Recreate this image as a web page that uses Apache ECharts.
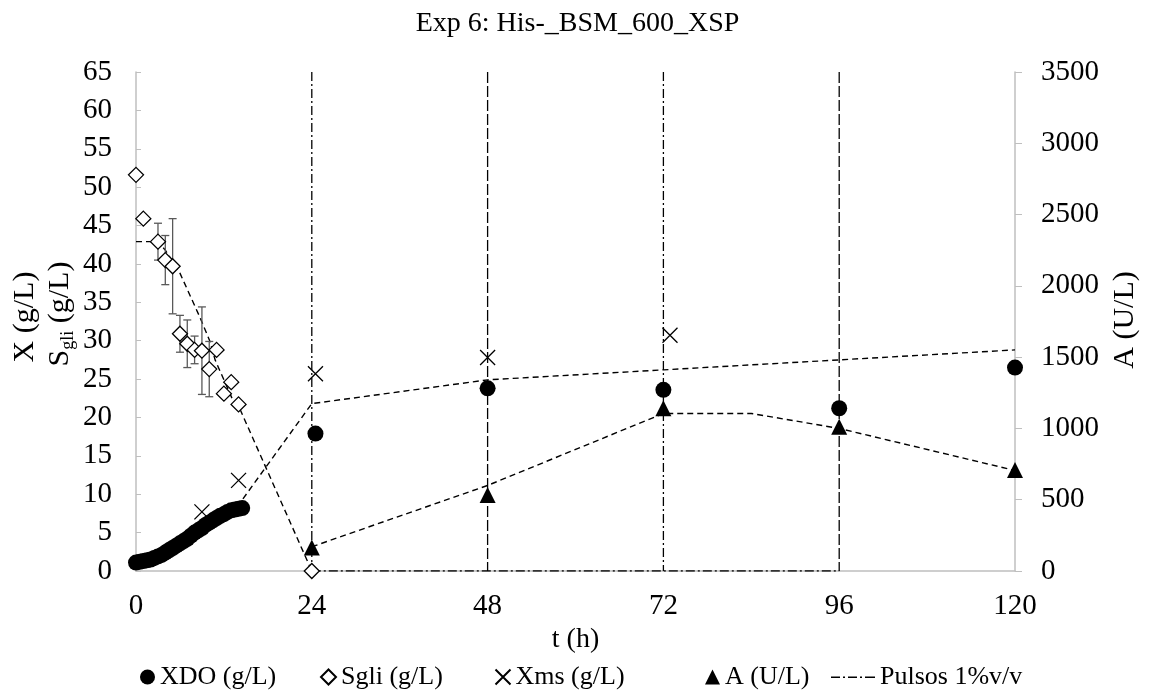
<!DOCTYPE html>
<html>
<head>
<meta charset="utf-8">
<script src="https://cdn.jsdelivr.net/npm/echarts@6/dist/echarts.min.js"></script>
<style>
  html, body { margin: 0; padding: 0; background: #fff; }
  #chart { width: 1155px; height: 699px; }
</style>
</head>
<body>
<div id="chart"></div>
<script>
// datos
var xdoT   = [0,0.5,1,1.5,2,2.5,3,3.5,4,4.5,5,5.5,6,6.5,7,7.5,8,8.5,9,9.5,10,10.5,11,11.5,12,12.5,13,13.5,14,14.5,24.5,48,72,96,120];
var xdoVal = [1.1,1.2,1.3,1.4,1.5,1.7,1.9,2.1,2.4,2.7,3.0,3.3,3.6,3.9,4.2,4.6,5.0,5.3,5.6,6.0,6.3,6.6,6.9,7.2,7.4,7.7,7.9,8.0,8.1,8.2,17.9,23.8,23.6,21.2,26.5];

var sgliT   = [0,1,3,4,5,6,7,8,9,10,11,12,13,14,24];
var sgliVal = [51.6,45.9,42.9,40.5,39.7,30.9,29.6,28.8,28.7,26.3,28.8,23.1,24.6,21.7,0];
var sgliErr = [0,0,2.4,3.2,6.2,2.4,3.1,1.8,5.7,3.6,0,0,0,0,0];

var xmsT   = [9,14,24.5,48,72.9];
var xmsVal = [7.7,11.8,25.7,27.8,30.7];

var aT   = [24,48,72,96,120];
var aVal = [165,533,1141,1012,708];

// curvas del modelo (lineas discontinuas)
var xModelT   = [14.6,24,48,72,96,120];
var xModelVal = [9.4,21.8,24.9,26.2,27.5,28.8];
var sModelT   = [0,3,4,6,8.7,10.1,10.8,13.2,14,24];
var sModelVal = [42.9,42.9,41.8,38.8,33.1,29.9,27.5,22.3,21.5,0];
var aModelT   = [24,48,72,84,96,120];
var aModelVal = [170,600,1105,1105,1000,705];

// pulsos
var pulseTimes = [24,48,72,96];
var pulseTop = 65;

var FONT = "'Liberation Serif', 'DejaVu Serif', serif";

function zip(a, b){
	var out = [];
	for(var i=0;i<a.length;i++){
		out.push([a[i], b[i]]);
	}
	return out;
}

var chart = echarts.init(document.getElementById('chart'));

var sgliErrData = [];
for(var i=0;i<sgliT.length;i++){
	sgliErrData.push([sgliT[i], sgliVal[i], sgliErr[i]]);
}

var pulseSeries = [];
for(var i=0;i<pulseTimes.length;i++){
	pulseSeries.push({
		name: 'Pulsos 1%v/v', type: 'line', yAxisIndex: 0, symbol: 'none', z: 1,
		itemStyle: { color: '#000' },
		lineStyle: { color: '#000', width: 1.3, type: (i % 2 == 0) ? [9,3,2,3] : [11,3] },
		data: [[pulseTimes[i], pulseTop], [pulseTimes[i], 0]]
	});
}
pulseSeries.push({
	name: 'Pulsos 1%v/v', type: 'line', yAxisIndex: 0, symbol: 'none', z: 1,
	itemStyle: { color: '#000' },
	lineStyle: { color: '#000', width: 1.3, type: [9,3,2,3] },
	data: [[pulseTimes[0], 0], [pulseTimes[pulseTimes.length-1], 0]]
});

var modelLine = { color: '#000', width: 1.4, type: [6,4] };

// icono raya-punto para la leyenda de pulsos
var dashDotIcon = 'path://M0,0L0.01,0L0.01,0.01Z M0,14L0.01,14L0.01,14.01Z M0,6.5h9v1.4h-9z M12,6.5h2v1.4h-2z M17,6.5h9v1.4h-9z M29,6.5h2v1.4h-2z M34,6.5h10v1.4h-10z';

var legendNames = ['XDO (g/L)', 'Sgli (g/L)', 'Xms (g/L)', 'A (U/L)', 'Pulsos 1%v/v'];
var legendLeft  = [135, 315, 488, 700, 826];
var legends = [];
for(var i=0;i<legendNames.length;i++){
	legends.push({
		data: [i == 4 ? { name: legendNames[i], icon: dashDotIcon } : legendNames[i]],
		left: legendLeft[i], top: 659,
		itemWidth: (i == 4) ? 44 : 15, itemHeight: 15, itemGap: 6,
		textStyle: { fontFamily: FONT, fontSize: 26, color: '#000' }
	});
}

var option = {
	animation: false,
	backgroundColor: '#fff',
	title: {
		text: 'Exp 6: His-_BSM_600_XSP',
		left: 'center', top: 5,
		textStyle: { fontFamily: FONT, fontSize: 28, fontWeight: 'normal', color: '#000' }
	},
	legend: legends,
	grid: { left: 136, right: 140, top: 72, bottom: 128, containLabel: false },
	xAxis: {
		type: 'value', min: 0, max: 120, interval: 24,
		name: 't (h)', nameLocation: 'middle', nameGap: 48,
		nameTextStyle: { fontFamily: FONT, fontSize: 28, color: '#000' },
		axisLine: { lineStyle: { color: '#bfbfbf', width: 1.5 } },
		axisTick: { show: false },
		axisLabel: { fontFamily: FONT, fontSize: 29, color: '#000', margin: 21 },
		splitLine: { show: false }
	},
	yAxis: [{
		type: 'value', min: 0, max: 65, interval: 5, position: 'left',
		axisLine: { show: true, lineStyle: { color: '#bfbfbf', width: 1.5 } },
		axisTick: { show: true, inside: true, length: 5, lineStyle: { color: '#bfbfbf' } },
		axisLabel: { fontFamily: FONT, fontSize: 29, color: '#000', margin: 24 },
		splitLine: { show: false }
	}, {
		type: 'value', min: 0, max: 3500, interval: 500, position: 'right',
		axisLine: { show: true, lineStyle: { color: '#bfbfbf', width: 1.5 } },
		axisTick: { show: true, length: 7, lineStyle: { color: '#bfbfbf' } },
		axisLabel: { fontFamily: FONT, fontSize: 29, color: '#000', margin: 26,
			formatter: function(v){ return String(v); } },
		splitLine: { show: false }
	}],
	graphic: [{
		type: 'text', x: 25, y: 317, rotation: Math.PI / 2,
		style: { text: 'X (g/L)', fontFamily: FONT, fontSize: 30, fill: '#000', align: 'center', verticalAlign: 'middle' }
	}, {
		type: 'text', x: 60, y: 314, rotation: Math.PI / 2,
		style: {
			text: '{a|S}{b|gli}{a| (g/L)}', align: 'center', verticalAlign: 'middle', fill: '#000',
			rich: {
				a: { fontFamily: FONT, fontSize: 30, lineHeight: 34, fill: '#000' },
				b: { fontFamily: FONT, fontSize: 18, lineHeight: 18, verticalAlign: 'bottom', fill: '#000' }
			}
		}
	}, {
		type: 'text', x: 1125, y: 320, rotation: Math.PI / 2,
		style: { text: 'A (U/L)', fontFamily: FONT, fontSize: 30, fill: '#000', align: 'center', verticalAlign: 'middle' }
	}],
	series: pulseSeries.concat([
		{ name: 'modeloX', type: 'line', yAxisIndex: 0, symbol: 'none', z: 2,
		  lineStyle: modelLine, data: zip(xModelT, xModelVal) },
		{ name: 'modeloS', type: 'line', yAxisIndex: 0, symbol: 'none', z: 2,
		  lineStyle: modelLine, data: zip(sModelT, sModelVal) },
		{ name: 'modeloA', type: 'line', yAxisIndex: 1, symbol: 'none', z: 2,
		  lineStyle: modelLine, data: zip(aModelT, aModelVal) },
		{
			name: 'errSgli', type: 'custom', yAxisIndex: 0, z: 3,
			encode: { x: 0, y: 1 },
			renderItem: function(params, api){
				var e = api.value(2);
				if(!e){ return null; }
				var top = api.coord([api.value(0), api.value(1) + e]);
				var bot = api.coord([api.value(0), api.value(1) - e]);
				var st = { stroke: '#595959', lineWidth: 1.3 };
				return { type: 'group', children: [
					{ type: 'line', shape: { x1: top[0], y1: top[1], x2: bot[0], y2: bot[1] }, style: st },
					{ type: 'line', shape: { x1: top[0]-4, y1: top[1], x2: top[0]+4, y2: top[1] }, style: st },
					{ type: 'line', shape: { x1: bot[0]-4, y1: bot[1], x2: bot[0]+4, y2: bot[1] }, style: st }
				]};
			},
			data: sgliErrData
		},
		{ name: 'XDO (g/L)', type: 'scatter', yAxisIndex: 0, z: 4, symbol: 'circle', symbolSize: 16,
		  itemStyle: { color: '#000', opacity: 1 }, data: zip(xdoT, xdoVal) },
		{ name: 'Xms (g/L)', type: 'scatter', yAxisIndex: 0, z: 5, symbol: 'path://M0,0L10,10M10,0L0,10', symbolSize: 15,
		  itemStyle: { color: 'none', borderColor: '#000', borderWidth: 1.3, opacity: 1 }, data: zip(xmsT, xmsVal) },
		{ name: 'A (U/L)', type: 'scatter', yAxisIndex: 1, z: 5, symbol: 'triangle', symbolSize: 16,
		  itemStyle: { color: '#000', opacity: 1 }, data: zip(aT, aVal) },
		{ name: 'Sgli (g/L)', type: 'scatter', yAxisIndex: 0, z: 6, symbol: 'diamond', symbolSize: 15,
		  itemStyle: { color: '#fff', borderColor: '#000', borderWidth: 1.3, opacity: 1 }, data: zip(sgliT, sgliVal) }
	])
};
chart.setOption(option);
</script>
</body>
</html>
